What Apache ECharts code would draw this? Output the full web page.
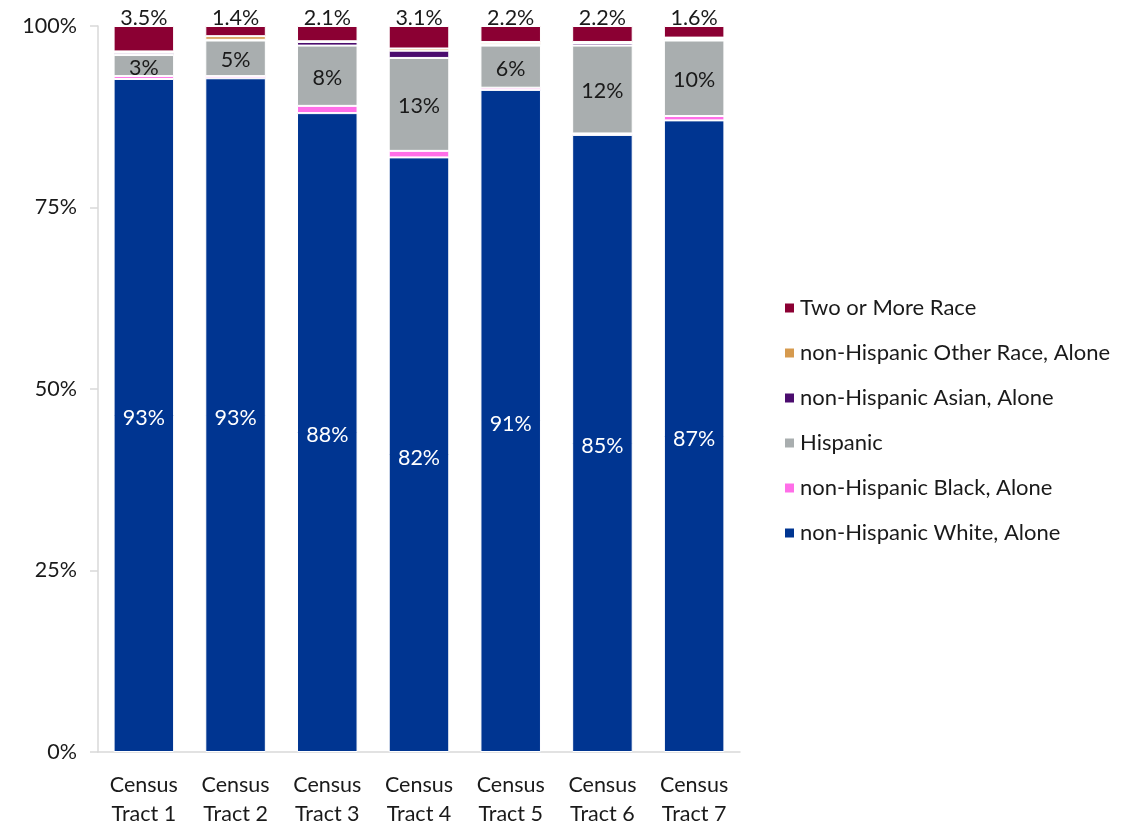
<!DOCTYPE html>
<html>
<head>
<meta charset="utf-8">
<script src="https://cdn.jsdelivr.net/npm/echarts@6/dist/echarts.min.js"></script>
<style>
  html, body { margin: 0; padding: 0; background: #fff; }
  #chart { width: 1137px; height: 824px; }
</style>
</head>
<body>
<div id="chart"></div>
<script>
// Census tracts on the x axis
const categories = ['Census\nTract 1', 'Census\nTract 2', 'Census\nTract 3', 'Census\nTract 4', 'Census\nTract 5', 'Census\nTract 6', 'Census\nTract 7'];

// Share of population by race / ethnicity (percent)
const whiteAlone = [92.7, 92.8, 88.0, 81.9, 91.2, 85.0, 87.0];
const blackAlone = [0.4, 0.3, 1.0, 0.9, 0.3, 0.2, 0.6];
const hispanic   = [2.9, 4.9, 8.3, 12.8, 5.8, 12.1, 10.4];
const asianAlone = [0.3, 0.1, 0.5, 1.0, 0.2, 0.3, 0.2];
const otherAlone = [0.2, 0.5, 0.1, 0.3, 0.3, 0.2, 0.2];
const twoOrMore  = [3.5, 1.4, 2.1, 3.1, 2.2, 2.2, 1.6];

const yTicks = [0, 25, 50, 75, 100];

const FONT = 'Lato, "Open Sans", sans-serif';
const FS = 21.5;

function seg(name, data, color, label) {
  return {
    name: name,
    type: 'bar',
    stack: 'total',
    data: data,
    barCategoryGap: '34%',
    itemStyle: { color: color, borderColor: '#ffffff', borderWidth: 1 },
    label: label || { show: false },
    emphasis: { disabled: true }
  };
}

const chart = echarts.init(document.getElementById('chart'));
chart.setOption({
  animation: false,
  textStyle: { fontFamily: FONT },
  grid: { left: 98, right: 397, top: 26, bottom: 72, containLabel: false, outerBoundsMode: 'none' },
  xAxis: {
    type: 'category',
    data: categories,
    axisLine: { lineStyle: { color: '#d9d9d9', width: 1.5 } },
    axisTick: { show: false },
    axisLabel: { color: '#1a1a1a', fontSize: FS, lineHeight: 29, margin: 19, fontFamily: FONT }
  },
  yAxis: {
    type: 'value',
    min: yTicks[0],
    max: yTicks[yTicks.length - 1],
    interval: 25,
    axisLine: { show: true, lineStyle: { color: '#d9d9d9', width: 1.5 } },
    axisTick: { show: true, length: 8, lineStyle: { color: '#d9d9d9', width: 1.5 } },
    splitLine: { show: false },
    axisLabel: { color: '#1a1a1a', fontSize: FS, margin: 21, formatter: '{value}%', fontFamily: FONT }
  },
  legend: {
    orient: 'vertical',
    left: 778,
    top: 292,
    icon: 'rect',
    itemWidth: 11,
    itemHeight: 11,
    itemGap: 23,
    textStyle: { color: '#1a1a1a', fontSize: 22, fontFamily: FONT },
    data: ['Two or More Race', 'non-Hispanic Other Race, Alone', 'non-Hispanic Asian, Alone', 'Hispanic', 'non-Hispanic Black, Alone', 'non-Hispanic White, Alone']
  },
  series: [
    seg('non-Hispanic White, Alone', whiteAlone, '#003591', {
      show: true, position: 'inside', offset: [0, 3], color: '#ffffff', fontSize: FS, fontFamily: FONT,
      formatter: p => p.value.toFixed(0) + '%'
    }),
    seg('non-Hispanic Black, Alone', blackAlone, '#ff6ee8'),
    seg('Hispanic', hispanic, '#a9aeaf', {
      show: true, position: 'inside', offset: [0, 2], color: '#1a1a1a', fontSize: FS, fontFamily: FONT,
      formatter: p => p.value.toFixed(0) + '%'
    }),
    seg('non-Hispanic Asian, Alone', asianAlone, '#4b0c6e'),
    seg('non-Hispanic Other Race, Alone', otherAlone, '#d69a4e'),
    seg('Two or More Race', twoOrMore, '#8b0033', {
      show: true, position: 'top', distance: -3, color: '#1a1a1a', fontSize: FS, fontFamily: FONT,
      formatter: p => p.value.toFixed(1) + '%'
    })
  ]
});
</script>
</body>
</html>
